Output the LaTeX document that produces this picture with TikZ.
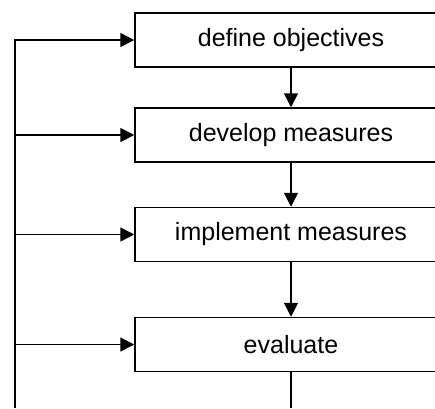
\documentclass[tikz,border=0pt]{standalone}
\usepackage{fontspec}
\setmainfont{Liberation Sans}
\usetikzlibrary{arrows.meta,positioning}

\begin{document}
\begin{tikzpicture}[
        x=1pt, y=1pt,
        node distance=40pt,
        font=\fontsize{25}{30}\selectfont,
        stage/.style={rectangle, draw, line width=1.5pt, minimum width=312pt, minimum height=54pt, inner sep=0pt, align=center},
        arrow/.style={-{Triangle[length=14pt,width=14pt]}, line width=1.5pt},
        plain/.style={line width=1.5pt}
    ]
        \useasboundingbox (0,0) rectangle (435,-408);

        \node[stage] (obj) at (291,-40) {define objectives};
        \node[stage, below=39.5pt of obj] (dev) {develop measures};
        \node[stage, below=44pt of dev] (impl) {implement measures};
        \node[stage, below=54.5pt of impl] (eval) {evaluate};

        \coordinate (rail) at (15,-408);
        \coordinate (out) at (eval.south |- rail);

        \draw[arrow] (rail) |- (obj.west);
        \foreach \s in {dev,impl,eval} {
            \draw[arrow] (rail |- \s.west) -- (\s.west);
        }
        \foreach \a/\b in {obj/dev,dev/impl,impl/eval} {
            \draw[arrow] (\a.south) -- (\b.north);
        }
        \draw[plain] (eval.south) -- (out);
    \end{tikzpicture}
\end{document}
